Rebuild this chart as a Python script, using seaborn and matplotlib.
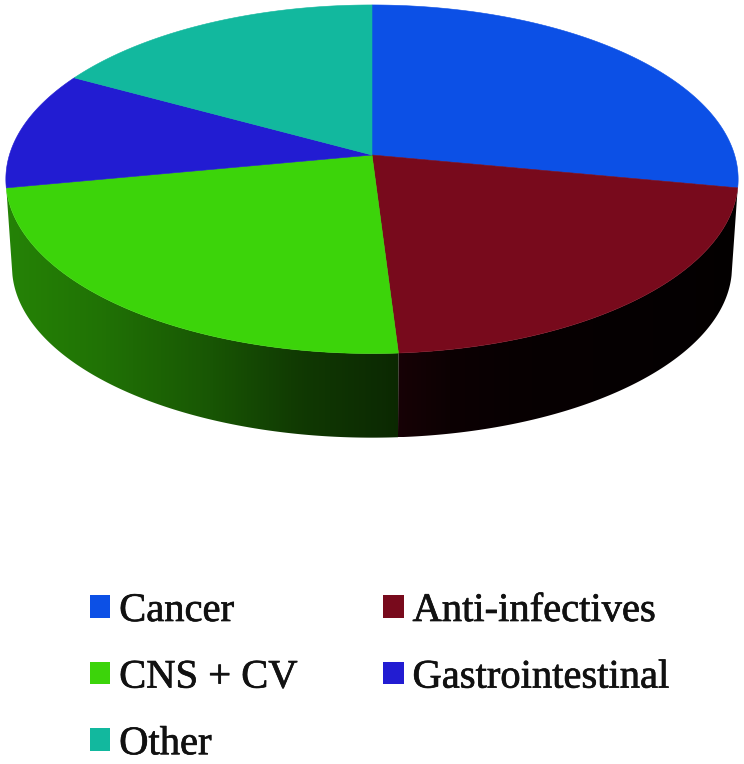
import numpy as np
import matplotlib
matplotlib.use("Agg")
import matplotlib.pyplot as plt
import matplotlib.patheffects as pe
from matplotlib.patches import Patch, Polygon
import seaborn as sns

categories = ["Cancer", "Anti-infectives", "CNS + CV", "Gastrointestinal", "Other"]
shares = [28, 21, 23, 11, 17]
hex_colors = ["#0c50e6", "#780a1c", "#3cd40a", "#221cd2", "#12b89e"]
wall_categories = ["Anti-infectives", "CNS + CV"]

sns.set_theme(style="white")
palette = sns.color_palette(hex_colors)

W, H = 744, 764
fig = plt.figure(figsize=(W / 100, H / 100), dpi=100, facecolor="white")
ax = fig.add_axes([0, 0, 1, 1])

# perspective disc geometry (pixels)
K = 0.139
TOP = dict(a=362.6, b=170.9, cx=372.0, cy=155.0)
BOT = dict(a=356.5, b=167.6, cx=372.0, cy=243.0)
SHADE_X = [5, 100, 200, 300, 398, 450, 520, 738]
SHADE_F = [0.62, 0.54, 0.42, 0.27, 0.19, 0.10, 0.06, 0.03]


def project(t, a, b, cx, cy):
    s, c = np.sin(t), np.cos(t)
    d = 1 + K * c
    return cx + a * s / d, cy - b * c / d


edges = np.deg2rad(np.concatenate([[0], np.cumsum(shares)]) / sum(shares) * 360)

# side wall, shaded smoothly from left to right
for i, col in enumerate(palette):
    if categories[i] not in wall_categories:
        continue
    ts = np.linspace(edges[i], edges[i + 1], 300)
    xt, yt = project(ts, **TOP)
    xb, yb = project(ts, **BOT)
    x0, x1 = min(xt.min(), xb.min()), max(xt.max(), xb.max())
    y0, y1 = min(yt.min(), yb.min()), max(yt.max(), yb.max())
    grid = np.linspace(x0, x1, 512)
    f = np.interp(grid, SHADE_X, SHADE_F)
    img = (np.array(col)[None, None, :] * f[None, :, None])
    im = ax.imshow(img, extent=[x0, x1, y1, y0], aspect="auto",
                   interpolation="bilinear", zorder=2)
    poly = Polygon(np.c_[np.r_[xt, xb[::-1]], np.r_[yt, yb[::-1]]],
                   closed=True, transform=ax.transData, fc="none", ec="none")
    ax.add_patch(poly)
    im.set_clip_path(poly)

# top face
for i, col in enumerate(palette):
    ts = np.linspace(edges[i], edges[i + 1], 200)
    xt, yt = project(ts, **TOP)
    ax.fill(np.r_[TOP["cx"], xt], np.r_[TOP["cy"], yt], color=col, lw=0.4, zorder=3)

ax.set_xlim(0, W)
ax.set_ylim(H, 0)
ax.axis("off")

handles = [Patch(facecolor=palette[i], edgecolor="none", label=categories[i]) for i in [0, 2, 4, 1, 3]]
leg = ax.legend(handles=handles, ncols=2, loc="upper left",
                bbox_to_anchor=(90, 593), bbox_transform=ax.transData,
                borderaxespad=0, borderpad=0, frameon=False,
                prop={"family": "Liberation Serif", "size": 29.2},
                handlelength=0.5, handleheight=0.48, handletextpad=0.22,
                labelspacing=0.73, columnspacing=2.12, labelcolor="#111111")
for t in leg.get_texts():
    t.set_path_effects([pe.withStroke(linewidth=0.5, foreground="#111111")])

fig.savefig("out.png", dpi=100, facecolor="white")
